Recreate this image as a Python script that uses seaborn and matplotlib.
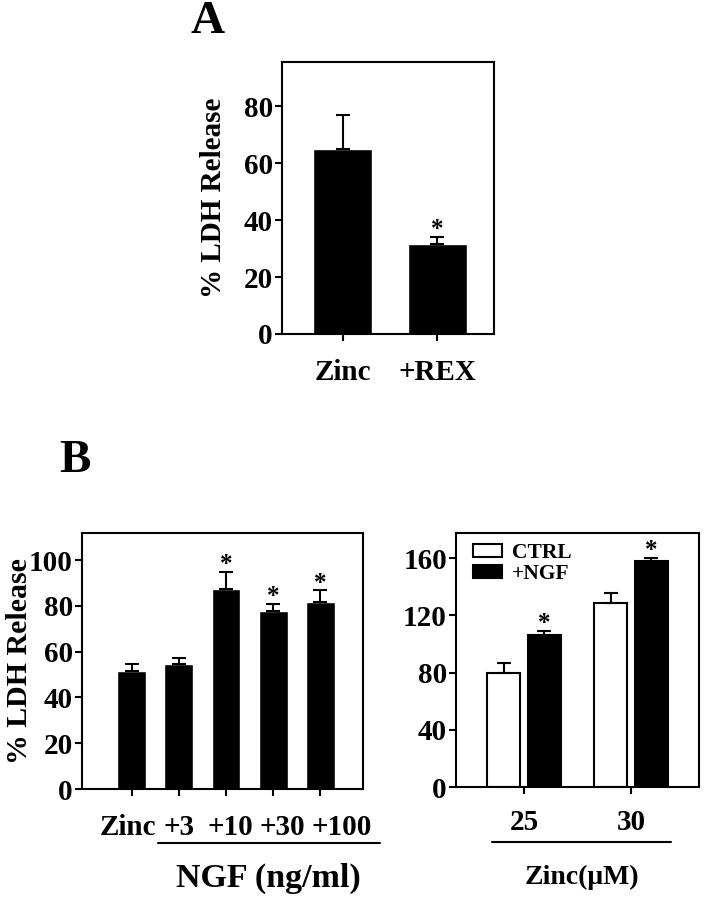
import numpy as np
import pandas as pd
import matplotlib
matplotlib.use("Agg")
import matplotlib.pyplot as plt
from matplotlib.lines import Line2D
from matplotlib.transforms import ScaledTranslation
import seaborn as sns

# panel A: zinc vs +REX
a_groups = ["Zinc", "+REX"]
a_values = [65, 31.7]
a_err = [12, 2.5]
a_star = [False, True]

# panel B left: NGF dose
b_groups = ["Zinc", "+3", "+10", "+30", "+100"]
b_values = [51.7, 54.6, 87.3, 77.7, 81.7]
b_err = [3, 2.5, 7.6, 3, 5]
b_star = [False, False, True, True, True]

# panel B right: zinc dose, CTRL vs +NGF
c_zinc = ["25", "30"]
c_ctrl = [80, 129]
c_ngf = [106, 158]
c_ctrl_err = [6.5, 6.5]
c_ngf_err = [3, 2.5]

sns.set_style("ticks")
plt.rcParams['font.family'] = ['Liberation Serif', 'DejaVu Serif']
plt.rcParams['font.weight'] = 'bold'
plt.rcParams['axes.labelweight'] = 'bold'
plt.rcParams['text.color'] = 'black'
plt.rcParams['axes.labelcolor'] = 'black'
plt.rcParams['axes.edgecolor'] = 'black'
plt.rcParams['axes.linewidth'] = 1.5
plt.rcParams['xtick.major.width'] = 1.5
plt.rcParams['ytick.major.width'] = 1.5
plt.rcParams['xtick.major.size'] = 5
plt.rcParams['ytick.major.size'] = 5
plt.rcParams['xtick.color'] = 'black'
plt.rcParams['ytick.color'] = 'black'

W, H = 706, 899
fig = plt.figure(figsize=(W / 100, H / 100), dpi=100)


def box(x0, y0, x1, y1):
    # pixel box -> figure fraction
    return [x0 / W, 1 - y1 / H, (x1 - x0) / W, (y1 - y0) / H]


def add_err(ax, patches, errs, stars):
    for p, e, s in zip(patches, errs, stars):
        x = p.get_x() + p.get_width() / 2
        top = p.get_height()
        ax.errorbar(x, top, yerr=[[0], [e]], fmt='none', ecolor='black',
                    elinewidth=1.5, capsize=5, capthick=1.5)
        if s:
            ax.annotate("*", xy=(x, top + e), xytext=(0, -3), textcoords='offset points',
                        ha='center', va='bottom', fontsize=18, fontweight='bold')


def style(ax, fs=21):
    for sp in ax.spines.values():
        sp.set_visible(True)
        sp.set_color('black')
    ax.tick_params(axis='x', labelsize=fs, pad=13, length=5)
    ax.tick_params(axis='y', labelsize=fs, pad=1.5, length=5)
    ax.set_xlabel("")


# ---- A ----
axA = fig.add_axes(box(282, 62, 494, 334))
dfA = pd.DataFrame({"g": a_groups, "v": a_values})
sns.barplot(data=dfA, x="g", y="v", color="black", width=0.62, errorbar=None, ax=axA,
            saturation=1)
add_err(axA, axA.patches, a_err, a_star)
axA.set_xlim(-0.637, 1.595)
axA.set_ylim(0, 95.5)
axA.set_yticks([0, 20, 40, 60, 80])
style(axA)
axA.set_ylabel("% LDH Release", fontsize=21, labelpad=12)

# ---- B left ----
axB = fig.add_axes(box(82, 533, 363, 789))
dfB = pd.DataFrame({"g": b_groups, "v": b_values})
sns.barplot(data=dfB, x="g", y="v", color="black", width=0.61, errorbar=None, ax=axB,
            saturation=1)
add_err(axB, axB.patches, b_err, b_star)
axB.set_xlim(-1.05, 4.9)
axB.set_ylim(0, 111.8)
axB.set_yticks([0, 20, 40, 60, 80, 100])
style(axB)
axB.set_ylabel("% LDH Release", fontsize=21.5, labelpad=-3)
# the dose labels are spread a little wider than the bars
for lbl, dx in zip(axB.get_xticklabels(), [-4, 0, 4, 9.5, 21.5]):
    lbl.set_transform(lbl.get_transform() + ScaledTranslation(dx / 100, 0, fig.dpi_scale_trans))

# ---- B right ----
axC = fig.add_axes(box(456, 533, 699, 787))
dfC = pd.DataFrame({
    "zinc": c_zinc * 2,
    "cond": ["CTRL"] * len(c_zinc) + ["+NGF"] * len(c_zinc),
    "v": c_ctrl + c_ngf,
})
sns.barplot(data=dfC, x="zinc", y="v", hue="cond", palette={"CTRL": "white", "+NGF": "black"},
            edgecolor="black", linewidth=1.5, width=0.76, gap=0.18, errorbar=None,
            saturation=1, ax=axC)
bars = [p for p in axC.patches if p.get_height() > 0]
add_err(axC, bars, c_ctrl_err + c_ngf_err, [False, False, True, True])
axC.set_xlim(-0.636, 1.636)
axC.set_ylim(0, 177.7)
axC.set_yticks([0, 40, 80, 120, 160])
style(axC)
axC.tick_params(axis='x', pad=11)
axC.set_ylabel("")
leg = axC.legend(loc="upper left", bbox_to_anchor=(0.07, 0.96), frameon=False,
                 handlelength=1.35, handleheight=0.55, handletextpad=0.45,
                 labelspacing=0.05, borderpad=0, borderaxespad=0,
                 prop={'weight': 'bold', 'size': 15.5})
for h in leg.legend_handles:
    h.set_edgecolor('black')
    h.set_linewidth(1.5)

# panel letters
fig.text(208 / W, 1 - 22 / H, "A", fontsize=34, fontweight='bold', ha='center', va='center')
fig.text(75 / W, 1 - 461 / H, "B", fontsize=34, fontweight='bold', ha='center', va='center')

# group bars and group labels under the x axes
fig.add_artist(Line2D([158 / W, 380 / W], [1 - 843 / H] * 2, color='black', lw=1.5))
fig.add_artist(Line2D([492 / W, 671 / W], [1 - 842 / H] * 2, color='black', lw=1.5))
fig.text(268 / W, 1 - 878 / H, "NGF (ng/ml)", fontsize=24.5, fontweight='bold',
         ha='center', va='center')
fig.text(582 / W, 1 - 877 / H, "Zinc(\u03bcM)", fontsize=20, fontweight='bold',
         ha='center', va='center')

fig.savefig("out.png", dpi=100)
